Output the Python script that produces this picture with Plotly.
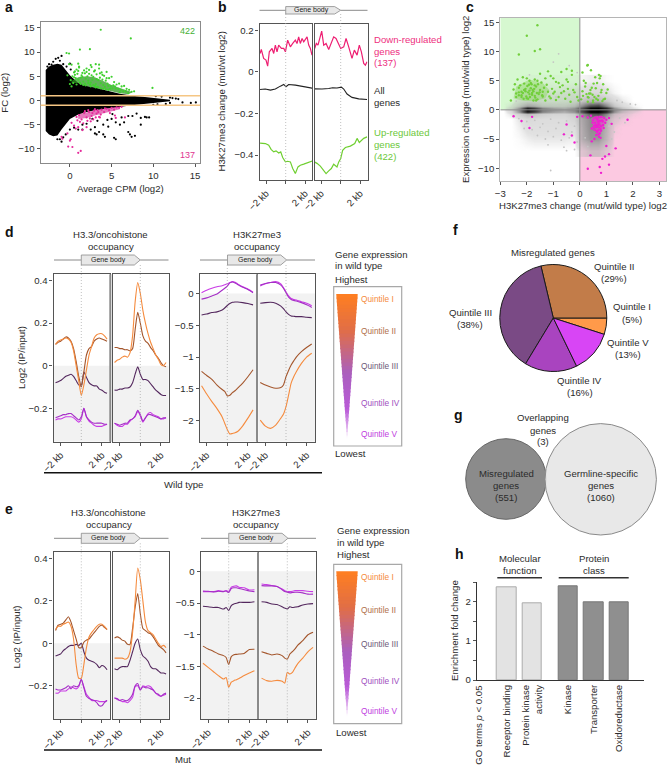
import plotly.graph_objects as go

W, H = 668, 766
FONT = "Liberation Sans"
TXT = "#2b2b2b"
FS = 9.6

# ---------- panel a ----------
A_MASS_X = [-2.9,-2.5,-2,-1.5,-1,-0.5,0,1,2,3,4,5,6,7,8,9,10,11,12,12,11,10,9,8,7,6,5,4,3,2,1,0,-0.5,-1,-1.5,-2,-2.5,-2.9]
A_MASS_Y = [6.3,7,7.4,7.6,7.4,6.4,5.2,3.6,3,2.7,2.2,1.8,1.4,1.1,0.9,0.7,0.5,0.3,0.15,-0.15,-0.3,-0.5,-0.7,-0.9,-1.1,-1.3,-1.6,-1.8,-2,-2.4,-2.9,-3.8,-4.8,-6,-7.2,-7.4,-7,-6.3]
A_BLACK_X = [-2.7,-2.5,-2.2,-2,-1.7,-1.4,-1.2,-1,-0.8,-0.4,0,0.1,10.3,11,12,12.3,12.7,13,13.5,14.5,15.1,11.5,12,10.5,10,9.2,9,9.5,8.5,7.5,8,7,6.5,5.5,5,4.5,4,3.5,3,3.2,4,4.2,5.3,5.5,7,7.2,7.4,7.8,3,2,2.5,1.5,6,8.5,-1.5,-1,-1.2,-0.8,-0.5,0,0.5,1,1.5,3.3,4.6,6.2,2.7,5.1]
A_BLACK_Y = [7,7.5,7.4,8,8.6,8.8,8.2,9.2,7.5,7,7.6,6.4,0.9,0.8,0.6,0.5,0.4,0.3,-0.4,-0.5,-0.4,-0.7,-0.5,-0.8,-0.9,-3.5,-3.4,-3.5,-3.6,-3.2,-2.7,-3.2,-4.5,-4.5,-3.8,-4,-5,-6.5,-6.8,-7,-7,-7.5,-7.7,-8,-6.5,-7,-7.5,-7.3,-5.5,-4.8,-6,-5,-5,-5,-8,-8.5,-8,-7.6,-7,-6,-5.6,-6,-6,-4.2,-5.4,-3.5,-3.8,-2.8]
A_GREEN_X = [3.7,7.3,-0.4,-0.1,1.2,2.4,9.9,-0.1,0.2,1,1.1,2.5,3.5,3.1,0.3,0.5,0.8,1.1,1.4,1.7,2,2.3,2.6,2.9,3.2,3.5,3.8,4.1,4.4,4.7,5,5.3,5.6,5.9,6.2,6.5,6.8,7.1,7.4,7.7,0.1,0.4,0.7,1,1.3,1.6,1.9,2.2,2.5,2.8,3.1,3.4,3.7,4,4.3,4.6,4.9,5.2,5.5,5.8,6.1,6.4,6.7,7,-0.3,0,0.6,0.9,1.2,1.5,1.8,2.1,2.4,2.7,3,3.3,3.6,3.9,4.2,4.5,4.8,5.1,0.2,0.5,0.8,1.3,1.6,1.9,2.2,2.5,2.8,3.1,3.4,3.7,4,4.3,4.6,1,1.5,2,2.6,3.2,3.9,4.4,5.4,6,0.6,1.8,2.3,3,3.6]
A_GREEN_Y = [14.6,12.8,9.8,9.7,10.5,10.6,2.6,7.5,7.4,7.6,7,7.3,7.4,7.5,5,5.8,6.4,6.8,5.2,6.2,6.6,5.5,6.9,6,5.4,6.6,5.8,5.1,5.9,4.6,4.9,3.8,3.3,3.5,2.9,3,2.4,2.2,1.8,1.9,4.2,3.6,4.6,4.3,4.7,3.9,4.5,4.1,3.7,4.9,3.4,4.2,3.6,3.2,4.1,3,2.9,3.1,2.5,2.4,2.2,1.9,1.9,1.5,5.2,3.4,5.3,5.5,3.7,4.9,3.5,5,3.3,4.3,3,2.8,4.7,4.3,2.8,3.5,2.4,2.5,2.9,4.8,3.3,3.4,3.2,3.1,3.6,2.9,3.2,2.7,2.7,2.5,2.4,2.3,2.2,6.1,5.7,5.9,5.2,4.4,5.3,4.6,2.9,1.7,6,5.6,6.3,6.2,5.6]
A_GCORE_X = [0.2,1,2,3,4,5,6,7.5,7,6,5,4,3,2,1,0.2]
A_GCORE_Y = [4,4.8,5,4.8,4,3.2,2.6,1.7,1.3,1.5,1.9,2.3,2.7,3,3.6,3.6]
A_PINK_X = [-0.2,0.3,1,1.3,-1,-0.9,0,0.1,2,1,0.5,0.8,1.1,1.4,1.7,2,2.3,2.6,2.9,3.2,3.5,3.8,4.1,4.4,4.7,5,5.3,5.6,5.9,6.2,1.2,1.6,2.1,2.4,2.8,3.1,3.4,3.7,4.2,4.8,5.4,1.8,2.2,2.7,3,3.3,0.7,-0.3,0.9,1.5,2.5,3.6,5.5,6.6,0.2]
A_PINK_Y = [-9.5,-9.6,-10.8,-10.4,-7.5,-7.9,-8.3,-8,-5.5,-5.5,-5.2,-3.4,-3,-3.9,-2.6,-3.5,-2.4,-3.2,-2.1,-2.7,-3.4,-1.9,-2.4,-1.7,-2,-1.5,-1.9,-1.4,-1.5,-1.3,-4.4,-4.7,-4.2,-3.7,-3.9,-3.5,-2.4,-2.9,-1.6,-2.6,-3.1,-2.2,-2,-2.6,-1.8,-2,-5.8,-6.8,-4.1,-6.1,-4.3,-3.5,-3.6,-3.5,-4.6]
A_PCORE_X = [1,2,3,4,5,6,6,5,4,3,2,1]
A_PCORE_Y = [-2.9,-2.4,-2,-1.8,-1.5,-1.2,-1.8,-2.2,-2.6,-3.1,-3.6,-3.8]

# ---------- panel b ----------
B_PINK_LX = [-2.63,-2.5,-2.26,-2.02,-1.85,-1.68,-1.4,-1.23,-1.06,-0.89,-0.72,-0.44,-0.2,-0.03,0.2,0.48,0.72,0.99,1.16,1.33,1.5,1.68,1.85,2.19,2.36,2.53,2.7]
B_PINK_LY = [0.088,0.107,0.064,0.056,0.027,0.096,0.112,0.088,0.128,0.096,0.128,0.112,0.112,0.096,0.152,0.12,0.136,0.152,0.136,0.168,0.136,0.16,0.144,0.168,0.128,0.112,0.08]
B_PINK_RX = [-2.67,-2.5,-2.33,-2.15,-1.95,-1.74,-1.5,-1.23,-0.96,-0.72,-0.48,-0.2,0,0.31,0.55,0.82,1.16,1.4,1.68,1.91,2.12,2.36,2.53,2.7]
B_PINK_RY = [0.112,0.136,0.128,0.16,0.195,0.128,0.136,0.107,0.136,0.168,0.16,0.128,0.112,0.12,0.16,0.12,0.064,0.104,0.08,0.128,0.096,0.04,0.032,0.048]
B_BLACK_LX = [-2.63,-2.1,-1.56,-1.06,-0.55,-0.2,0.03,0.3,1,1.68,2.36,2.75]
B_BLACK_LY = [-0.085,-0.083,-0.088,-0.083,-0.069,-0.061,-0.072,-0.061,-0.064,-0.069,-0.075,-0.079]
B_BLACK_RX = [-2.7,-1.92,-1.23,-0.82,-0.38,0.07,0.31,0.65,1.16,1.85,2.7]
B_BLACK_RY = [-0.082,-0.083,-0.08,-0.077,-0.078,-0.074,-0.083,-0.107,-0.123,-0.13,-0.133]
B_GREEN_LX = [-2.63,-2.08,-1.74,-1.5,-1.23,-0.99,-0.72,-0.51,-0.31,-0.03,0.2,0.48,0.72,0.99,1.26,1.5,1.85,2.36,2.75]
B_GREEN_LY = [-0.343,-0.345,-0.353,-0.373,-0.385,-0.38,-0.39,-0.385,-0.412,-0.433,-0.43,-0.433,-0.465,-0.489,-0.457,-0.449,-0.444,-0.437,-0.428]
B_GREEN_RX = [-2.7,-2.43,-2.09,-1.74,-1.5,-1.23,-0.96,-0.72,-0.38,-0.2,0,0.2,0.48,0.99,1.44,1.68,1.91,2.36,2.7]
B_GREEN_RY = [-0.433,-0.44,-0.453,-0.473,-0.489,-0.476,-0.465,-0.444,-0.457,-0.433,-0.417,-0.377,-0.364,-0.357,-0.345,-0.32,-0.34,-0.32,-0.313]

# ---------- panel c ----------
C_GRID_X = [-2.9,-2.6,-2.3,-2.0,-1.7,-1.4,-1.0,-0.6,-0.2,0.1,0.4,0.7,1.0,1.3,1.6,2.0,2.4]
C_GRID_Y = [-7,-5,-3,-1.5,-0.7,-0.3,0,0.3,0.7,1.5,3,5]
C_GRID_Z = [
 [0,0,0,0,0,0,0,0,0,0.06,0.16,0.16,0.06,0,0,0,0],
 [0,0,0.01,0.03,0.04,0.04,0.04,0.04,0.03,0.28,0.38,0.38,0.22,0,0,0,0],
 [0,0,0.03,0.07,0.07,0.07,0.07,0.07,0.08,0.3,0.42,0.42,0.25,0.03,0,0,0],
 [0,0,0.05,0.1,0.09,0.08,0.08,0.08,0.13,0.32,0.42,0.42,0.27,0.08,0.03,0,0],
 [0,0.05,0.15,0.25,0.2,0.15,0.12,0.12,0.18,0.4,0.6,0.65,0.45,0.18,0.08,0.02,0],
 [0,0.1,0.4,0.85,0.7,0.45,0.35,0.3,0.4,0.65,0.98,1,0.8,0.4,0.2,0.05,0],
 [0,0.15,0.45,0.95,0.8,0.5,0.4,0.35,0.45,0.7,0.98,1,0.85,0.45,0.25,0.1,0],
 [0,0.1,0.4,0.85,0.7,0.45,0.35,0.3,0.4,0.65,0.98,1,0.8,0.4,0.2,0.05,0],
 [0,0.05,0.2,0.35,0.3,0.2,0.18,0.18,0.25,0.45,0.65,0.7,0.45,0.2,0.1,0.02,0],
 [0,0,0.07,0.12,0.12,0.09,0.08,0.09,0.12,0.22,0.27,0.27,0.2,0.1,0.04,0,0],
 [0,0,0.03,0.05,0.05,0.05,0.04,0.05,0.06,0.08,0.1,0.1,0.06,0.02,0,0,0],
 [0,0,0,0.01,0.01,0.01,0.01,0.01,0.01,0.02,0.03,0.03,0.01,0,0,0,0],
]
C_GRAY_X = [-2.3,-2,-1.7,-1.4,-1.1,-0.8,-0.5,-0.2,-2.1,-1.8,-1.5,-1.2,-0.9,-0.6,-0.3,-1.6,-1.3,-1,-0.7,-0.4,-0.1,-1.2,-0.6,-0.2,-0.5,-1.7,-1.4,-0.9,-1.9,-2.4,-2.2,-1.5,-0.7,0.2,0.3,1.1,1.2,1.3,1.5,1.7,1.9,2.1,1.4,1.6,-1.1,-2.5,-1,-0.4,-0.1,-1.9,-2.2,-0.8]
C_GRAY_Y = [-1.5,-2,-1.8,-2.4,-1.6,-2.2,-1.9,-2.8,-3.2,-3.4,-3,-3.7,-3.2,-4.1,-3.8,-4.4,-5,-4.6,-5.2,-4.8,-5.5,-6,-6.4,-6.8,-7,1.8,2,2.2,2.4,1.5,2.8,3.2,3,-4.8,-6.3,-2.8,-5,-3.8,-1.4,-2.2,1,0.9,1.6,1.3,-10.4,-1,8.2,7.6,6.4,6,-2,9.6]
C_GREEN_X = [-1.6,-2,-1.5,-1.7,-2.3,-0.5,-0.3,0.3,-2.5,-2.3,-2.1,-1.9,-1.7,-1.5,-1.3,-1.1,-0.9,-0.7,-0.5,-0.3,-2.4,-2.2,-2,-1.8,-1.6,-1.4,-1.2,-1,-0.8,-0.6,-0.4,-0.2,-2.6,-2.3,-2.1,-1.95,-1.85,-1.75,-1.65,-1.5,-1.35,-2.4,-2.2,-2.05,-1.9,-1.8,-1.7,-1.55,-1.4,-1.25,-2.35,-2.15,-2,-1.85,-1.7,-1.6,-1.45,-2.45,-2.25,-1.95,-1.75,-1.65,-1.3,-1.1,-0.9,-1.05,-0.75,-0.55,-0.35,-0.15,-0.05,-1.2,-1,-0.8,-0.65,-0.45,-0.25,0.05,0.1,0.15,0.2,0.3,0.4,0.5,0.6,0.7,0.8,0.9,1,1.05,0.12,0.22,0.35,0.45,0.55,0.65,0.75,0.85,0.95,0.28,0.42,0.58,0.72,0.88,0.3,0.5,0.62,0.33,0.1,0.78,-2.15,-2.05,-1.98,-1.9,-1.82,-1.72,-1.62,-2.3,-2.2,-1.88,-1.78,-1.68,-1.58,-2.12,-2.02,-1.92,-1.52,-1.42,-1.15,-0.95,-0.7,-0.45,-0.1,0.25,0.48,0.68,0.82,0.52,0.4]
C_GREEN_Y = [14.5,12.7,10.4,10.1,9.5,7,6.7,7.7,3.5,3,4.5,5,4.2,6.2,5.4,5.8,4.8,6.5,5.2,6,2.2,2.5,2,2.6,1.8,2.3,3.1,2.8,2.2,3.2,2.6,3,1.6,3.8,3.4,3,3.7,3.2,4,3.4,3.8,2.8,2.2,3.6,2.7,2.9,2.4,2.7,3.1,4.3,5.2,5.6,5.4,4.6,5.2,5,4.7,4.4,4.2,1.9,1.6,1.6,1.6,2,1.7,3.6,3.9,1.9,1.4,4.4,1.6,6.6,5.4,4.6,4.2,4.8,3.4,1.8,3.2,5,4,2.2,3.4,1.6,3.7,2.4,3,1.8,2.9,3.5,2.4,4.6,2.8,3.8,2.2,4.6,5.4,1.5,1.9,7.6,6.8,5.6,6,4.4,1.4,1.3,1.9,2.1,6.4,5.8,2.9,3.2,4.1,3.3,4.4,3.6,2.9,2.5,3.1,2.2,3.4,2.1,4.4,1.9,2.3,4.3,3,2.5,2.3,3.1,2.9,3.6,2.2,2.7,2.6,1.7,3.4,4.5,2.8]
C_GCORE_X = [-2.5,-2.1,-1.7,-1.3,-1.15,-1.4,-1.9,-2.4]
C_GCORE_Y = [2,1.5,1.5,2,3.4,4.6,5.2,4]
C_MAG_X = [-2.5,-2.2,-1.9,-1.8,-0.6,-0.5,-0.3,-0.2,-0.1,0.1,0.3,0.42,0.48,0.52,0.56,0.6,0.62,0.66,0.7,0.72,0.76,0.8,0.84,0.88,0.92,0.96,1,1.1,1.2,0.5,0.55,0.58,0.64,0.68,0.74,0.78,0.82,0.86,0.45,0.53,0.6,0.65,0.7,0.75,0.8,0.62,0.68,0.72,0.76,0.66,0.78,0.7,0.9,0.4,0.3,1,1.1,0.95,0.45,0.75,0.8,1.35,1.8,0.85,1.1,0.55]
C_MAG_Y = [-1.1,-1.9,-3.1,-1.2,-4.2,-2.5,-4.4,-5.6,-1.2,-1.1,-1.3,-1,-2.2,-3,-1.4,-2.6,-3.6,-1.6,-2.2,-3,-1.2,-2.8,-1.8,-2.6,-1.4,-2.2,-1.7,-1.4,-2.4,-1.8,-3.4,-2.2,-2.9,-1.9,-2.5,-3.3,-1.2,-2,-3.2,-2.7,-3,-3.8,-3.5,-4,-3.6,-4.3,-2.6,-4.6,-1.9,-1.3,-4.8,-4.2,-3.1,-7.8,-10.1,-6.2,-7.6,-8,-5.4,-9.8,-10.8,-6.6,-1.7,-8.4,-9.4,-5]
C_MCORE_X = [0.42,0.6,0.8,0.98,0.9,0.78,0.66,0.52]
C_MCORE_Y = [-1.4,-1,-1,-1.6,-2.9,-4,-4,-2.8]

# ---------- profile x positions (kb from TSS or TES) ----------
X_H = [-2.5,-2.25,-2,-1.75,-1.5,-1.25,-1,-0.75,-0.5,-0.25,0,0.25,0.5,0.75,1,1.25,1.5,1.75,2,2.25,2.5]
X_K = [-2.5,-2,-1.5,-1,-0.5,-0.25,0,0.25,0.5,0.75,1,1.5,2,2.5]

# ---------- panel d, H3.3 ----------
D_H_L = {
 "Q1": [0.1,0.115,0.12,0.125,0.13,0.125,0.11,0.07,0.0,-0.07,-0.14,-0.09,-0.02,0.05,0.09,0.13,0.145,0.15,0.15,0.14,0.125],
 "Q2": [0.1,0.11,0.115,0.125,0.135,0.13,0.115,0.08,0.02,-0.05,-0.1,-0.03,0.05,0.08,0.09,0.115,0.125,0.13,0.125,0.12,0.115],
 "Q3": [-0.08,-0.075,-0.07,-0.06,-0.05,-0.045,-0.04,-0.05,-0.07,-0.09,-0.095,-0.03,-0.055,-0.08,-0.09,-0.095,-0.095,-0.11,-0.115,-0.125,-0.13],
 "Q4": [-0.245,-0.24,-0.235,-0.23,-0.23,-0.225,-0.225,-0.235,-0.245,-0.255,-0.24,-0.2,-0.24,-0.255,-0.265,-0.27,-0.27,-0.27,-0.27,-0.275,-0.275],
 "Q5": [-0.255,-0.25,-0.25,-0.245,-0.24,-0.24,-0.24,-0.245,-0.255,-0.265,-0.25,-0.2,-0.24,-0.26,-0.27,-0.28,-0.285,-0.285,-0.285,-0.28,-0.275],
}
D_H_R = {
 "Q1": [0.015,0.025,0.03,0.04,0.045,0.04,0.06,0.14,0.3,0.39,0.34,0.26,0.2,0.15,0.11,0.08,0.05,0.03,0.005,0.0,0.015],
 "Q2": [0.085,0.085,0.08,0.08,0.075,0.075,0.07,0.08,0.17,0.25,0.2,0.14,0.115,0.105,0.085,0.07,0.05,0.035,0.015,0.0,-0.005],
 "Q3": [-0.115,-0.115,-0.11,-0.11,-0.105,-0.105,-0.1,-0.08,-0.04,-0.005,-0.04,-0.065,-0.065,-0.07,-0.085,-0.1,-0.115,-0.125,-0.135,-0.14,-0.14],
 "Q4": [-0.27,-0.275,-0.28,-0.275,-0.27,-0.27,-0.255,-0.25,-0.235,-0.21,-0.23,-0.26,-0.245,-0.23,-0.23,-0.235,-0.24,-0.245,-0.25,-0.245,-0.245],
 "Q5": [-0.27,-0.28,-0.285,-0.285,-0.275,-0.275,-0.26,-0.25,-0.24,-0.215,-0.235,-0.265,-0.245,-0.225,-0.22,-0.23,-0.235,-0.24,-0.25,-0.25,-0.245],
}
# ---------- panel d, H3K27me3 ----------
D_K_L = {
 "Q1": [-1.45,-1.58,-1.7,-1.81,-1.94,-2.04,-2.14,-2.21,-2.2,-2.19,-2.17,-2.08,-1.96,-1.83],
 "Q2": [-1.225,-1.29,-1.35,-1.44,-1.51,-1.54,-1.61,-1.6,-1.56,-1.53,-1.49,-1.41,-1.31,-1.2],
 "Q3": [-0.34,-0.325,-0.3,-0.29,-0.26,-0.23,-0.19,-0.16,-0.14,-0.135,-0.135,-0.145,-0.16,-0.18],
 "Q4": [-0.09,-0.07,-0.04,-0.01,0.05,0.08,0.115,0.165,0.18,0.165,0.14,0.095,0.06,0.01],
 "Q5": [0.01,0.05,0.08,0.105,0.12,0.135,0.15,0.17,0.185,0.175,0.15,0.105,0.07,0.02],
}
D_K_R = {
 "Q1": [-1.99,-2.085,-2.12,-2.07,-1.96,-1.9,-1.78,-1.6,-1.41,-1.31,-1.23,-1.1,-1.0,-0.94],
 "Q2": [-1.4,-1.44,-1.47,-1.49,-1.48,-1.44,-1.31,-1.21,-1.125,-1.06,-1.0,-0.915,-0.85,-0.795],
 "Q3": [-0.155,-0.145,-0.14,-0.155,-0.2,-0.24,-0.29,-0.33,-0.355,-0.36,-0.365,-0.365,-0.375,-0.38],
 "Q4": [0.13,0.155,0.17,0.17,0.13,0.08,0.01,-0.06,-0.095,-0.11,-0.12,-0.145,-0.18,-0.22],
 "Q5": [0.115,0.15,0.17,0.185,0.15,0.09,0.025,-0.04,-0.08,-0.095,-0.105,-0.13,-0.155,-0.195],
}
# ---------- panel e, H3.3 ----------
E_H_L = {
 "Q1": [0.065,0.08,0.08,0.09,0.095,0.1,0.08,0.02,-0.1,-0.165,-0.165,-0.1,-0.02,0.03,0.05,0.065,0.08,0.09,0.09,0.08,0.065],
 "Q2": [0.06,0.085,0.09,0.095,0.11,0.125,0.1,0.06,0.02,-0.02,-0.02,0.005,0.015,0.02,0.035,0.05,0.065,0.08,0.085,0.075,0.065],
 "Q3": [-0.06,-0.055,-0.05,-0.035,-0.025,-0.015,-0.01,-0.01,-0.005,-0.01,0.0,-0.04,-0.07,-0.08,-0.085,-0.09,-0.1,-0.115,-0.105,-0.11,-0.125],
 "Q4": [-0.215,-0.22,-0.22,-0.215,-0.21,-0.2,-0.215,-0.2,-0.205,-0.2,-0.17,-0.21,-0.25,-0.26,-0.265,-0.27,-0.28,-0.295,-0.295,-0.28,-0.27],
 "Q5": [-0.235,-0.235,-0.225,-0.225,-0.225,-0.215,-0.205,-0.21,-0.215,-0.205,-0.17,-0.205,-0.24,-0.255,-0.27,-0.27,-0.27,-0.275,-0.275,-0.275,-0.27],
}
E_H_R = {
 "Q1": [-0.07,-0.07,-0.07,-0.07,-0.075,-0.07,-0.04,0.05,0.2,0.355,0.3,0.2,0.1,0.06,0.05,0.04,0.02,0.0,-0.015,-0.01,-0.02],
 "Q2": [0.025,0.03,0.025,0.015,0.01,-0.005,-0.005,0.07,0.17,0.235,0.14,0.07,0.06,0.05,0.045,0.03,0.01,-0.01,-0.02,-0.03,-0.045],
 "Q3": [-0.12,-0.125,-0.115,-0.11,-0.11,-0.11,-0.08,-0.04,0.0,0.02,-0.03,-0.06,-0.07,-0.085,-0.11,-0.12,-0.12,-0.13,-0.14,-0.14,-0.145],
 "Q4": [-0.26,-0.26,-0.27,-0.265,-0.27,-0.27,-0.26,-0.24,-0.2,-0.19,-0.22,-0.205,-0.21,-0.21,-0.215,-0.22,-0.235,-0.24,-0.25,-0.24,-0.235],
 "Q5": [-0.255,-0.265,-0.27,-0.275,-0.275,-0.28,-0.27,-0.255,-0.205,-0.2,-0.22,-0.2,-0.205,-0.2,-0.205,-0.22,-0.235,-0.245,-0.25,-0.245,-0.24],
}
# ---------- panel e, H3K27me3 ----------
E_K_L = {
 "Q1": [-1.45,-1.515,-1.58,-1.645,-1.7,-1.675,-1.83,-1.75,-1.725,-1.71,-1.69,-1.645,-1.605,-1.57],
 "Q2": [-1.18,-1.225,-1.26,-1.305,-1.33,-1.36,-1.47,-1.345,-1.315,-1.31,-1.305,-1.295,-1.235,-1.23],
 "Q3": [-0.55,-0.56,-0.57,-0.57,-0.595,-0.57,-0.62,-0.54,-0.515,-0.505,-0.49,-0.49,-0.49,-0.48],
 "Q4": [-0.31,-0.315,-0.325,-0.315,-0.32,-0.31,-0.335,-0.27,-0.26,-0.26,-0.27,-0.29,-0.31,-0.32],
 "Q5": [-0.32,-0.32,-0.32,-0.305,-0.315,-0.305,-0.32,-0.25,-0.235,-0.23,-0.25,-0.26,-0.295,-0.29],
}
E_K_R = {
 "Q1": [-1.685,-1.725,-1.735,-1.72,-1.735,-1.765,-1.595,-1.62,-1.595,-1.525,-1.46,-1.37,-1.27,-1.2],
 "Q2": [-1.27,-1.295,-1.32,-1.305,-1.33,-1.37,-1.385,-1.305,-1.265,-1.225,-1.17,-1.095,-1.0,-0.96],
 "Q3": [-0.48,-0.49,-0.515,-0.525,-0.56,-0.58,-0.595,-0.56,-0.57,-0.565,-0.56,-0.53,-0.515,-0.51],
 "Q4": [-0.225,-0.23,-0.23,-0.24,-0.29,-0.32,-0.33,-0.34,-0.335,-0.33,-0.33,-0.34,-0.36,-0.36],
 "Q5": [-0.2,-0.21,-0.225,-0.24,-0.28,-0.305,-0.32,-0.32,-0.315,-0.305,-0.305,-0.305,-0.315,-0.32],
}

# ---------- panel f ----------
PIE_LABELS = ["Quintile I","Quintile II","Quintile III","Quintile IV","Quintile V"]
PIE_VALUES = [5,29,38,16,13]
PIE_COLORS = ["#ff9a4a","#c27c49","#7a4a85","#a944bf","#d845f5"]

# ---------- panel h ----------
BAR_POS = [0,1,2.4,3.4,4.4]
BAR_LABELS = ["Receptor binding","Protein kinase<br>activity","Kinase","Transporter","Oxidoreductase"]
BAR_VALUES = [2.36,1.96,2.4,2.0,2.0]

QC = {"Q1":"#f58b3e","Q2":"#a4562c","Q3":"#54285e","Q4":"#a52fc6","Q5":"#c93ce6"}
ORDER = ["Q5","Q4","Q3","Q2","Q1"]

fig = go.Figure()
layout_axes = {}
shapes = []
annots = []
n_ax = [0]

def fx(p): return p / W
def fy(p): return 1 - p / H

def add_axes(x0, x1, y0, y1, xr, yr, xt=None, xtl=None, yt=None, ytl=None, xang=None,
             line="#555555", lw=1.2, show_y=True):
    n_ax[0] += 1
    k = n_ax[0]
    s = "" if k == 1 else str(k)
    tf = dict(family=FONT, size=FS, color=TXT)
    xa = dict(domain=[fx(x0), fx(x1)], range=xr, anchor="y"+s, showgrid=False, zeroline=False, automargin=False,
              showline=True, linecolor=line, linewidth=lw, mirror=True, ticks="outside", ticklen=3,
              tickcolor="#555555", tickfont=tf, tickwidth=1)
    if xt is not None:
        xa.update(tickmode="array", tickvals=xt, ticktext=xtl)
    if xang is not None:
        xa["tickangle"] = xang
    ya = dict(domain=[fy(y1), fy(y0)], range=yr, anchor="x"+s, showgrid=False, zeroline=False, automargin=False,
              showline=True, linecolor=line, linewidth=lw, mirror=True, tickfont=tf,
              ticks="outside" if show_y else "", ticklen=3, tickcolor="#555555", tickwidth=1,
              showticklabels=show_y)
    if yt is not None:
        ya.update(tickmode="array", tickvals=yt, ticktext=ytl)
    layout_axes["xaxis"+s] = xa
    layout_axes["yaxis"+s] = ya
    return "x"+s, "y"+s

def txt(x, y, t, size=FS, color=TXT, anchor="center", angle=0, bold=False):
    annots.append(dict(xref="paper", yref="paper", x=fx(x), y=fy(y), text=("<b>%s</b>" % t) if bold else t,
                       showarrow=False, xanchor=anchor, yanchor="middle", textangle=angle,
                       font=dict(family=FONT, size=size, color=color)))

def hline_px(x0, x1, y, color="#111111", w=1.5):
    shapes.append(dict(type="line", xref="paper", yref="paper", x0=fx(x0), x1=fx(x1), y0=fy(y), y1=fy(y),
                       line=dict(color=color, width=w)))

def vline_px(x, y0, y1, color="#8a8a8a", w=2):
    shapes.append(dict(type="line", xref="paper", yref="paper", x0=fx(x), x1=fx(x), y0=fy(y0), y1=fy(y1),
                       line=dict(color=color, width=w)))

def vdots(x, y0, y1):
    shapes.append(dict(type="line", xref="paper", yref="paper", x0=fx(x), x1=fx(x), y0=fy(y0), y1=fy(y1),
                       line=dict(color="#a5a5a5", width=0.7, dash="1px,2px")))

def gene_arrow(x_left, x_tss, x_tip, x_right, yc, half=5, fs=7):
    hline_px(x_left, x_tss, yc, "#8a8a8a", 1)
    hline_px(x_tip, x_right, yc, "#8a8a8a", 1)
    pts_ = [(x_tss, yc-half), (x_tip-6, yc-half), (x_tip, yc), (x_tip-6, yc+half), (x_tss, yc+half)]
    path = "M " + " L ".join("%.4f,%.4f" % (fx(a), fy(b)) for a, b in pts_) + " Z"
    shapes.append(dict(type="path", xref="paper", yref="paper", path=path, fillcolor="#e8e8e8",
                       line=dict(color="#8a8a8a", width=0.8)))
    txt((x_tss+x_tip)/2-2, yc, "Gene body", size=fs, color="#222222")

def line(xa, ya, xs, ys, color, w=1.1, smooth=False):
    ln = dict(color=color, width=w)
    if smooth:
        ln.update(shape="spline", smoothing=0.6)
    fig.add_trace(go.Scatter(x=xs, y=ys, mode="lines", line=ln,
                             xaxis=xa, yaxis=ya, showlegend=False, hoverinfo="skip"))

def pts(xa, ya, xs, ys, color, size=2.2):
    fig.add_trace(go.Scatter(x=xs, y=ys, mode="markers", marker=dict(color=color, size=size, line=dict(width=0)),
                             xaxis=xa, yaxis=ya, showlegend=False, hoverinfo="skip"))

def poly(xa, ya, xs, ys, color, opacity=1):
    fig.add_trace(go.Scatter(x=xs, y=ys, mode="lines", fill="toself", fillcolor=color, opacity=opacity,
                             line=dict(width=0), xaxis=xa, yaxis=ya, showlegend=False, hoverinfo="skip"))

def under_zero(xa, ya, bottom):
    shapes.append(dict(type="rect", xref=xa+" domain", yref=ya, x0=0, x1=1, y0=bottom, y1=0,
                       fillcolor="#f2f2f2", line=dict(width=0), layer="below"))

KB = ["\u22122 kb", "", "2 kb"]

def profile(x0, x1, center, y0, y1, yr, xs, data, yt=None, ytl=None, show_y=True):
    ppk = 10.3
    xr = [(x0-center)/ppk, (x1-center)/ppk]
    xa, ya = add_axes(x0, x1, y0, y1, xr, yr, xt=[-2,0,2], xtl=KB, yt=yt, ytl=ytl, xang=-45, show_y=show_y)
    under_zero(xa, ya, yr[0])
    for q in ORDER:
        line(xa, ya, xs, data[q], QC[q], smooth=True)
    return xa, ya

# ---------- a ----------
xa, ya = add_axes(40.7, 200, 22, 163, [-3.5,15.6], [-12.9,16.2], xt=[0,5,10,15], xtl=["0","5","10","15"],
                  yt=[-10,-5,0,5,10,15], ytl=["\u221210","\u22125","0","5","10","15"], line="#8a8a8a", lw=1.4)
poly(xa, ya, A_MASS_X, A_MASS_Y, "#000000")
poly(xa, ya, A_GCORE_X, A_GCORE_Y, "#2e9a22", 0.75)
poly(xa, ya, A_PCORE_X, A_PCORE_Y, "#d4208f", 0.6)
pts(xa, ya, A_BLACK_X, A_BLACK_Y, "#000000")
pts(xa, ya, A_GREEN_X, A_GREEN_Y, "#3fd02e")
pts(xa, ya, A_PINK_X, A_PINK_Y, "#e52a9a")
for v in (1, -1):
    shapes.append(dict(type="line", xref=xa+" domain", yref=ya, x0=0, x1=1, y0=v, y1=v,
                       line=dict(color="#f5c684", width=1.5)))
txt(187.7, 30.7, "422", color="#45b035", size=9)
txt(187.7, 155, "137", color="#e0348f", size=9)
txt(5, 92.7, "FC (log2)", angle=-90)
txt(120, 189, "Average CPM (log2)")

# ---------- b ----------
B_RANGE = [-0.52, 0.232]
xa, ya = add_axes(259.5, 312, 23.5, 180, [(259.5-285.7)/9.75, (312-285.7)/9.75], B_RANGE, xt=[-2,0,2], xtl=KB,
                  yt=[-0.4,-0.2,0,0.2], ytl=["\u22120.4","\u22120.2","0","0.2"], xang=-45)
line(xa, ya, B_PINK_LX, B_PINK_LY, "#ee1f72", 1.2)
line(xa, ya, B_BLACK_LX, B_BLACK_LY, "#222222", 1.1)
line(xa, ya, B_GREEN_LX, B_GREEN_LY, "#6fcf30", 1.2)
xa, ya = add_axes(314.5, 367.5, 23.5, 180, [(314.5-340.7)/9.75, (367.5-340.7)/9.75], B_RANGE, xt=[-2,0,2], xtl=KB,
                  xang=-45, show_y=False)
line(xa, ya, B_PINK_RX, B_PINK_RY, "#ee1f72", 1.2)
line(xa, ya, B_BLACK_RX, B_BLACK_RY, "#222222", 1.1)
line(xa, ya, B_GREEN_RX, B_GREEN_RY, "#6fcf30", 1.2)
gene_arrow(259.5, 285.7, 340.7, 367.5, 10.3, half=3.7)
vdots(285.7, 14, 180); vdots(340.7, 14, 180)
txt(221.7, 101.7, "H3K27me3 change (mut/wt log2)", angle=-90)
for y, t, c in [(39.3,"Down-regulated","#ee2f80"),(51,"genes","#ee2f80"),(62.7,"(137)","#ee2f80"),
                (91,"All",TXT),(103,"genes",TXT),
                (132.3,"Up-regulated","#6cc83a"),(144,"genes","#6cc83a"),(156,"(422)","#6cc83a")]:
    txt(371.7, y, t, color=c, anchor="left")

# ---------- c ----------
xa, ya = add_axes(500.3, 666, 18, 181, [-3,3.25], [-12.2,15.75], xt=[-3,-2,-1,0,1,2,3],
                  xtl=["\u22123","\u22122","\u22121","0","1","2","3"], yt=[-10,-5,0,5,10,15],
                  ytl=["\u221210","\u22125","0","5","10","15"], line="#b5b5b5", lw=1.2)
shapes.append(dict(type="rect", xref=xa, yref=ya, x0=-3, x1=0, y0=0, y1=15.75, fillcolor="#d6f8d0", line=dict(width=0), layer="below"))
shapes.append(dict(type="rect", xref=xa, yref=ya, x0=0, x1=3.25, y0=-12.2, y1=0, fillcolor="#fcc9e1", line=dict(width=0), layer="below"))
fig.add_trace(go.Heatmap(x=C_GRID_X, y=C_GRID_Y, z=C_GRID_Z, zmin=0, zmax=1, zsmooth="best", showscale=False,
                         colorscale=[[0,"rgba(200,200,200,0)"],[0.05,"rgba(190,190,190,0.45)"],[0.3,"rgba(165,165,165,0.9)"],[0.6,"#5a5a5a"],[1,"#000000"]],
                         xaxis=xa, yaxis=ya, hoverinfo="skip"))
pts(xa, ya, C_GRAY_X, C_GRAY_Y, "#c4c4c4", 1.8)
poly(xa, ya, C_GCORE_X, C_GCORE_Y, "#8fdc66", 0.5)
poly(xa, ya, C_MCORE_X, C_MCORE_Y, "#ef3fd0", 0.55)
pts(xa, ya, C_GREEN_X, C_GREEN_Y, "#72cf3c", 2.4)
pts(xa, ya, C_MAG_X, C_MAG_Y, "#ef1fd0", 2.4)
shapes.append(dict(type="line", xref=xa, yref=ya, x0=0, x1=0, y0=-12.2, y1=15.75, line=dict(color="#8f8f8f", width=1)))
shapes.append(dict(type="line", xref=xa, yref=ya, x0=-3, x1=3.25, y0=0, y1=0, line=dict(color="#8f8f8f", width=1)))
txt(466, 100, "Expression change (mut/wild type) log2", angle=-90)
txt(583, 205, "H3K27me3 change (mut/wild type) log2")

# ---------- d, e ----------
H_T = [-0.2,0,0.2,0.4]; H_TL = ["\u22120.2","0","0.2","0.4"]
K_T = [-2,-1.5,-1,-0.5,0]; K_TL = ["\u22122","\u22121.5","\u22121","\u22120.5","0"]
HR = [-0.357,0.429]; KR = [-2.33,0.3]

profile(53.5,110,81.3,274.3,441.7,HR,X_H,D_H_L,H_T,H_TL)
profile(112.5,168.5,140.3,274.3,441.7,HR,X_H,D_H_R,show_y=False)
profile(199.7,256.7,227.3,274.3,441.7,KR,X_K,D_K_L,K_T,K_TL)
profile(258.3,315,286,274.3,441.7,KR,X_K,D_K_R,show_y=False)
profile(53.5,110,81.3,552.3,719,HR,X_H,E_H_L,H_T,H_TL)
profile(112.5,168.5,140.3,552.3,719,HR,X_H,E_H_R,show_y=False)
profile(200.7,257.7,228.7,552.3,719,KR,X_K,E_K_L,K_T,K_TL)
profile(259.3,315.7,287.3,552.3,719,KR,X_K,E_K_R,show_y=False)

vline_px(110.3,274.3,441.7); vline_px(257,274.3,441.7); vline_px(258,552.3,719)

gene_arrow(54,81.3,140.3,168.5,260)
gene_arrow(200,227.5,286.7,315,260)
gene_arrow(54,81.3,140.3,168.5,538.3)
gene_arrow(201,228.7,288,316,538.3)
for x in (81.3,140.3,227.3,286): vdots(x,265,441.7)
for x in (81.3,140.3,228.7,287.3): vdots(x,543.3,719)

txt(110.7,235,"H3.3/oncohistone"); txt(110.7,246.7,"occupancy")
txt(257.3,235,"H3K27me3"); txt(257.3,246.7,"occupancy")
txt(108.7,512.7,"H3.3/oncohistone"); txt(108.7,524.7,"occupancy")
txt(255.7,512.7,"H3K27me3"); txt(255.7,524.7,"occupancy")
txt(21,358,"Log2 (IP/input)",angle=-90); txt(16.7,636.7,"Log2 (IP/input)",angle=-90)
hline_px(44,322,472.7); txt(183,484,"Wild type")
hline_px(44,322,750); txt(183,759.5,"Mut")

def mix(c1, c2, t):
    return "rgb(%d,%d,%d)" % tuple(round(a+(b-a)*t) for a, b in zip(c1, c2))

def wedge(box_y0, box_y1, tri_top, tri_tip):
    shapes.append(dict(type="rect", xref="paper", yref="paper", x0=fx(333.7), x1=fx(401.7), y0=fy(box_y0), y1=fy(box_y1),
                       line=dict(color="#a8a8a8", width=1.2), fillcolor="rgba(0,0,0,0)"))
    stops = [(0,(255,127,32)),(0.25,(225,110,70)),(0.55,(170,95,190)),(0.8,(185,90,215)),(1,(245,225,250))]
    steps = 40
    for i in range(steps):
        t0, t1 = i/steps, (i+1)/steps
        tc = (t0+t1)/2
        for j in range(len(stops)-1):
            if stops[j][0] <= tc <= stops[j+1][0]:
                c = mix(stops[j][1], stops[j+1][1], (tc-stops[j][0])/(stops[j+1][0]-stops[j][0]))
        ya_, yb_ = tri_top+(tri_tip-tri_top)*t0, tri_top+(tri_tip-tri_top)*t1
        h0, h1 = 10.7*(1-t0), 10.7*(1-t1)
        path = "M %.4f,%.4f L %.4f,%.4f L %.4f,%.4f L %.4f,%.4f Z" % (
            fx(347-h0),fy(ya_),fx(347+h0),fy(ya_),fx(347+h1),fy(yb_+1.2),fx(347-h1),fy(yb_+1.2))
        shapes.append(dict(type="path", xref="paper", yref="paper", path=path, fillcolor=c, line=dict(width=0)))

QL = [("Quintile I","#f58a3c"),("Quintile II","#b0704a"),("Quintile III","#6c5a78"),("Quintile IV","#a050c0"),("Quintile V","#c040e0")]
wedge(286.7,446,294,438)
txt(333.3,254,"Gene expression",anchor="left"); txt(333.3,265.7,"in wild type",anchor="left"); txt(333.3,279,"Highest",anchor="left"); txt(333.3,453.7,"Lowest",anchor="left")
for y,(t,c) in zip([298.7,331.3,366.3,403,434],QL): txt(359,y,t,size=8.3,color=c,anchor="left")
wedge(564.3,723.7,571.3,716)
txt(335,530,"Gene expression",anchor="left"); txt(335,542,"in wild type",anchor="left"); txt(335,554.7,"Highest",anchor="left"); txt(334,732,"Lowest",anchor="left")
for y,(t,c) in zip([577.3,610,644,680.7,711],QL): txt(359,y,t,size=8.3,color=c,anchor="left")

# ---------- f ----------
fig.add_trace(go.Pie(labels=PIE_LABELS, values=PIE_VALUES, sort=False, direction="counterclockwise", rotation=90,
                     automargin=False, marker=dict(colors=PIE_COLORS, line=dict(color="#1a1a1a", width=1)), textinfo="none", showlegend=False,
                     hoverinfo="skip", domain=dict(x=[fx(499.8),fx(606.8)], y=[fy(371.5),fy(264.5)])))
txt(553.3,252.3,"Misregulated genes")
txt(614.3,266.7,"Quintile II"); txt(614.3,278.7,"(29%)")
txt(632.3,306.7,"Quintile I"); txt(632.3,319,"(5%)")
txt(628,342.3,"Quintile V"); txt(628,354,"(13%)")
txt(579.7,380,"Quintile IV"); txt(579.7,392,"(16%)")
txt(470,312.7,"Quintile III"); txt(470,324.3,"(38%)")

# ---------- g ----------
def circle(cx, cy, r, fill, ln):
    shapes.append(dict(type="circle", xref="paper", yref="paper", x0=fx(cx-r), x1=fx(cx+r), y0=fy(cy-r), y1=fy(cy+r),
                       fillcolor=fill, line=dict(color=ln, width=1)))
circle(506,479,40.3,"#8b8b8b","#666666")
circle(600.7,479.3,55.7,"rgba(230,230,230,0.92)","#8a8a8a")
txt(543.3,418,"Overlapping"); txt(543.3,430,"genes"); txt(543.3,441.7,"(3)")
for y,a,b in [(473.7,"Misregulated","Germline-specific"),(485.3,"genes","genes"),(497,"(551)","(1060)")]:
    txt(506,y,a); txt(601,y,b)

# ---------- h ----------
xa, ya = add_axes(476.7,644,582.3,680,[-1.18,5.37],[0,2.5],xt=BAR_POS,xtl=BAR_LABELS,xang=-90,
                  yt=[0,0.5,1,1.5,2,2.5],ytl=["0","","1","","2",""],line="#333333",lw=1)
layout_axes[xa.replace("x","xaxis")].update(mirror=False, ticks="", ticklen=0)
layout_axes[ya.replace("y","yaxis")].update(mirror=False)
fig.add_trace(go.Bar(x=BAR_POS, y=BAR_VALUES, width=0.76, xaxis=xa, yaxis=ya, showlegend=False, hoverinfo="skip",
                     marker=dict(color=["#e3e3e3","#e3e3e3","#8f8f8f","#8f8f8f","#8f8f8f"],
                                 line=dict(color=["#ababab","#ababab","#777777","#777777","#777777"],width=1))))
txt(520,558,"Molecular"); txt(520,570,"function"); txt(594,558,"Protein"); txt(594,570,"class")
hline_px(497.3,542,577.7,"#333333",1.4); hline_px(558.7,628.7,577.7,"#333333",1.4)
txt(454,631,"Enrichment fold change",angle=-90)
txt(477.7,725,"GO terms <i>p</i> &lt; 0.05",angle=-90)

# ---------- panel letters ----------
for x,y,t in [(3,7,"a"),(216,7,"b"),(464,7,"c"),(3,232,"d"),(3,509,"e"),(451,230,"f"),(452,415,"g"),(453,554,"h")]:
    txt(x,y,t,size=14,color="#111111",anchor="left",bold=True)

fig.update_layout(template="none",width=W,height=H,margin=dict(l=0,r=0,t=0,b=0),paper_bgcolor="white",plot_bgcolor="rgba(0,0,0,0)",
                  autosize=False,shapes=shapes,annotations=annots,bargap=0,**layout_axes)
fig.write_html("out.html",config=dict(displayModeBar=False),post_script="document.body.style.margin='0';")
